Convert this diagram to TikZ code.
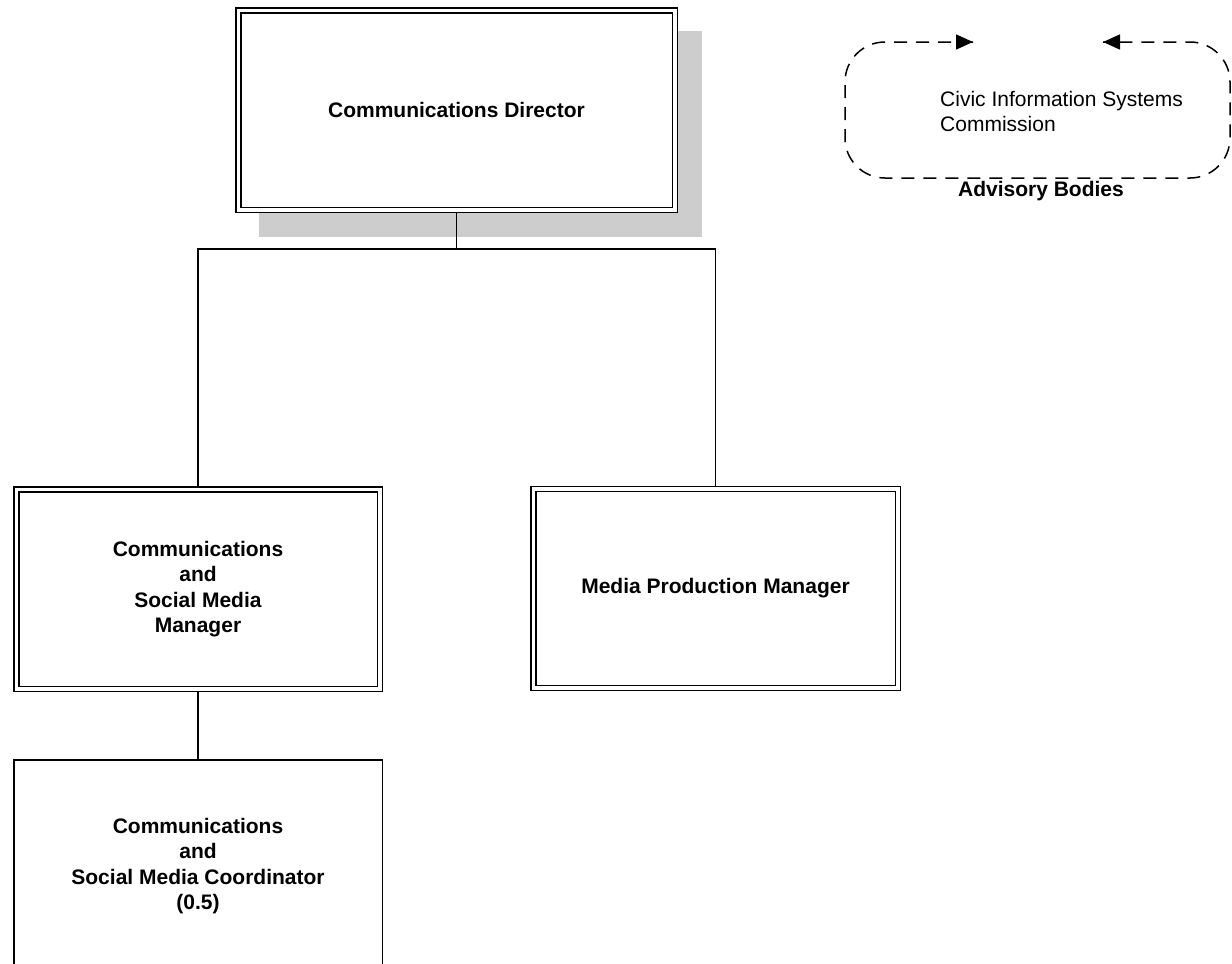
\documentclass[tikz,border=0pt]{standalone}
\usepackage{fontspec}
\setmainfont{Liberation Sans}
\usetikzlibrary{arrows.meta,calc,backgrounds}
\definecolor{shadowc}{RGB}{205,205,205}
\tikzset{
  dblbox/.style={draw, double, line width=1.5pt, double distance=3.5pt,
    outer sep=3.25pt, fill=white, inner sep=0pt, align=center,
    font=\fontsize{21}{25.5}\selectfont\bfseries},
  sglbox/.style={draw, line width=1.5pt, fill=white, inner sep=0pt,
    align=center, font=\fontsize{21}{25.5}\selectfont\bfseries},
  link/.style={draw, line width=1.5pt},
  advline/.style={line width=1.5pt, dash pattern=on 13pt off 9pt,
    rounded corners=40pt},
  advtip/.style={-{Triangle[length=17pt,width=15pt]}}
}
\begin{document}
\begin{tikzpicture}[x=1pt,y=-1pt]
\useasboundingbox (0,0) rectangle (1232,964);
\clip (0,0) rectangle (1232,964);

% Director
\node[dblbox, minimum width=436.5pt, minimum height=199.5pt] (dir) at (456.5,110)
  {Communications Director};
\begin{scope}[on background layer]
  \fill[shadowc] ($(dir.south west)+(24,24)$) rectangle ($(dir.north east)+(24,24)$);
\end{scope}

% Managers
\node[dblbox, minimum width=363.5pt, minimum height=199.5pt] (mgr) at (198,589)
  {Communications\\and\\Social Media\\Manager};
\node[dblbox, minimum width=364.5pt, minimum height=199pt] (mpm) at (715.5,588.5)
  {Media Production Manager};

% Coordinator
\node[sglbox, minimum width=368.5pt, minimum height=212.5pt] (coord) at (198,866)
  {Communications\\and\\Social Media Coordinator\\(0.5)};

% Connectors
\coordinate (j) at (456.5,249);
\draw[link] (dir.south) -- (j);
\draw[link] (j) -| (mgr.north);
\draw[link] (j) -| (mpm.north);
\draw[link] (mgr.south) -- (coord.north);

% Advisory bodies
\coordinate (tipL) at (973,42);
\coordinate (tipR) at (1103,42);
\coordinate (cTL) at (845,42);
\coordinate (cBL) at (845,178);
\coordinate (cBR) at (1230,178);
\coordinate (cTR) at (1230,42);
\draw[advline] (tipL) -- (cTL) -- (cBL) -- (cBR) -- (cTR) -- (tipR);
\draw[advtip, line width=1.5pt] ($(tipL)+(-12,0)$) -- (tipL);
\draw[advtip, line width=1.5pt] ($(tipR)+(12,0)$) -- (tipR);

\node[anchor=west, align=left, inner sep=0pt, font=\fontsize{21}{25}\selectfont] (advtext)
  at (940,111) {Civic Information Systems\\Commission};
\node[inner sep=0pt, font=\fontsize{21}{25}\selectfont\bfseries] (advlabel)
  at (1041,191) {Advisory Bodies};
\end{tikzpicture}
\end{document}
